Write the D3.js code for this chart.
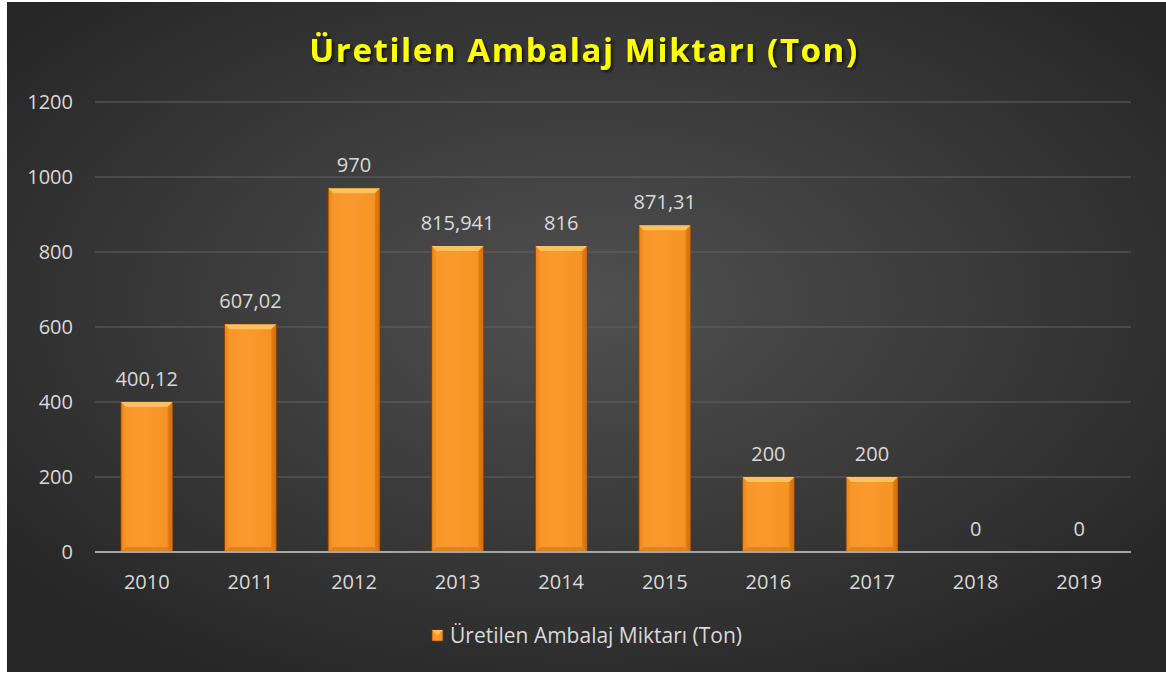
<!DOCTYPE html>
<html>
<head>
<meta charset="utf-8">
<script src="https://cdn.jsdelivr.net/npm/d3@7"></script>
<style>
  body { margin: 0; background: #fff; }
  svg { display: block; }
</style>
</head>
<body>
<div id="chart"></div>
<script>
const years = ["2010", "2011", "2012", "2013", "2014", "2015", "2016", "2017", "2018", "2019"];
const values = [400.12, 607.02, 970, 815.941, 816, 871.31, 200, 200, 0, 0];
const valueLabels = ["400,12", "607,02", "970", "815,941", "816", "871,31", "200", "200", "0", "0"];
const yTicks = [0, 200, 400, 600, 800, 1000, 1200];
const titleText = "Üretilen Ambalaj Miktarı (Ton)";

const W = 1166, H = 675;
const font = '"Open Sans", "Noto Sans", sans-serif';

const svg = d3.select("#chart").append("svg")
    .attr("width", W).attr("height", H);

const defs = svg.append("defs");

const bg = defs.append("radialGradient").attr("id", "bg")
    .attr("cx", "50%").attr("cy", "45%").attr("r", "65%");
bg.append("stop").attr("offset", "0%").attr("stop-color", "#505050");
bg.append("stop").attr("offset", "100%").attr("stop-color", "#262626");

const barGrad = defs.append("linearGradient").attr("id", "bar")
    .attr("x1", "0%").attr("x2", "100%").attr("y1", "0%").attr("y2", "0%");
[["0%", "#e98316"], ["10%", "#f9962a"], ["50%", "#fa9a2e"], ["90%", "#f59322"], ["100%", "#d5700e"]]
    .forEach(([o, c]) => barGrad.append("stop").attr("offset", o).attr("stop-color", c));

const shadow = defs.append("filter").attr("id", "shadow")
    .attr("x", "-10%").attr("y", "-30%").attr("width", "120%").attr("height", "160%");
shadow.append("feDropShadow").attr("dx", 2).attr("dy", 2).attr("stdDeviation", 1.5)
    .attr("flood-color", "#000").attr("flood-opacity", 0.7);

svg.append("rect").attr("x", 7).attr("y", 2).attr("width", W - 7).attr("height", H - 5)
    .attr("fill", "url(#bg)");

const margin = { top: 102, right: 35, bottom: 123, left: 95 };
const x = d3.scaleBand().domain(years).range([margin.left, W - margin.right]).paddingInner(0.5).paddingOuter(0.25);
const y = d3.scaleLinear().domain([0, 1200]).range([H - margin.bottom, margin.top]);

// gridlines
svg.append("g").selectAll("line").data(yTicks.filter(d => d > 0)).join("line")
    .attr("x1", margin.left).attr("x2", W - margin.right)
    .attr("y1", d => y(d)).attr("y2", d => y(d))
    .attr("stroke", "#626262").attr("stroke-width", 1);

// y tick labels
svg.append("g").selectAll("text").data(yTicks).join("text")
    .attr("x", 73).attr("y", d => y(d)).attr("dy", "0.35em")
    .attr("text-anchor", "end")
    .attr("fill", "#d9d9d9").style("font-family", font).style("font-size", "20px")
    .text(d => d);

// bars
const bars = svg.append("g").selectAll("g").data(years.map((yr, i) => ({ yr, v: values[i], label: valueLabels[i] }))).join("g");
const bev = 5;

bars.filter(d => d.v > 0).each(function (d) {
    const g = d3.select(this);
    const x0 = x(d.yr), x1 = x0 + x.bandwidth();
    const y0 = y(d.v), y1 = y(0);
    g.append("rect").attr("x", x0).attr("y", y0).attr("width", x1 - x0).attr("height", y1 - y0)
        .attr("fill", "url(#bar)").attr("stroke", "#7a3d08").attr("stroke-width", 0.8);
    // top bevel
    g.append("path")
        .attr("d", `M${x0},${y0}L${x1},${y0}L${x1 - bev},${y0 + bev}L${x0 + bev},${y0 + bev}Z`)
        .attr("fill", "#ffc25c");
    // bottom bevel
    g.append("path")
        .attr("d", `M${x0},${y1}L${x1},${y1}L${x1 - bev},${y1 - bev}L${x0 + bev},${y1 - bev}Z`)
        .attr("fill", "#dc7810").attr("opacity", 0.7);
    // side bevel
    g.append("path")
        .attr("d", `M${x1},${y0}L${x1 - bev},${y0 + bev}L${x1 - bev},${y1 - bev}L${x1},${y1}Z`)
        .attr("fill", "#d06c0c").attr("opacity", 0.5);
});

// axis line
svg.append("line")
    .attr("x1", margin.left).attr("x2", W - margin.right)
    .attr("y1", y(0)).attr("y2", y(0))
    .attr("stroke", "#a6a6a6").attr("stroke-width", 2);

// value labels
bars.append("text")
    .attr("x", d => x(d.yr) + x.bandwidth() / 2)
    .attr("y", d => y(d.v) - 16)
    .attr("text-anchor", "middle")
    .attr("fill", "#d9d9d9").style("font-family", font).style("font-size", "20px")
    .text(d => d.label);

// x labels
svg.append("g").selectAll("text").data(years).join("text")
    .attr("x", d => x(d) + x.bandwidth() / 2).attr("y", 589)
    .attr("text-anchor", "middle")
    .attr("fill", "#d9d9d9").style("font-family", font).style("font-size", "20px")
    .text(d => d);

// title
svg.append("text")
    .attr("x", 584).attr("y", 62)
    .attr("text-anchor", "middle")
    .attr("fill", "#ffff00").attr("filter", "url(#shadow)")
    .style("font-family", font).style("font-size", "33px").style("font-weight", "bold")
    .style("letter-spacing", "1.6px")
    .text(titleText);

// legend
const lg = svg.append("g").attr("transform", "translate(432,630)");
lg.append("rect").attr("width", 11).attr("height", 11).attr("fill", "url(#bar)").attr("stroke", "#7a3d08").attr("stroke-width", 0.6);
lg.append("path").attr("d", "M0,0L11,0L5.5,5Z").attr("fill", "#ffc25c");
lg.append("text").attr("x", 18).attr("y", 5.5).attr("dy", "0.35em")
    .attr("fill", "#d9d9d9").style("font-family", font).style("font-size", "21px")
    .text(titleText);
</script>
</body>
</html>
